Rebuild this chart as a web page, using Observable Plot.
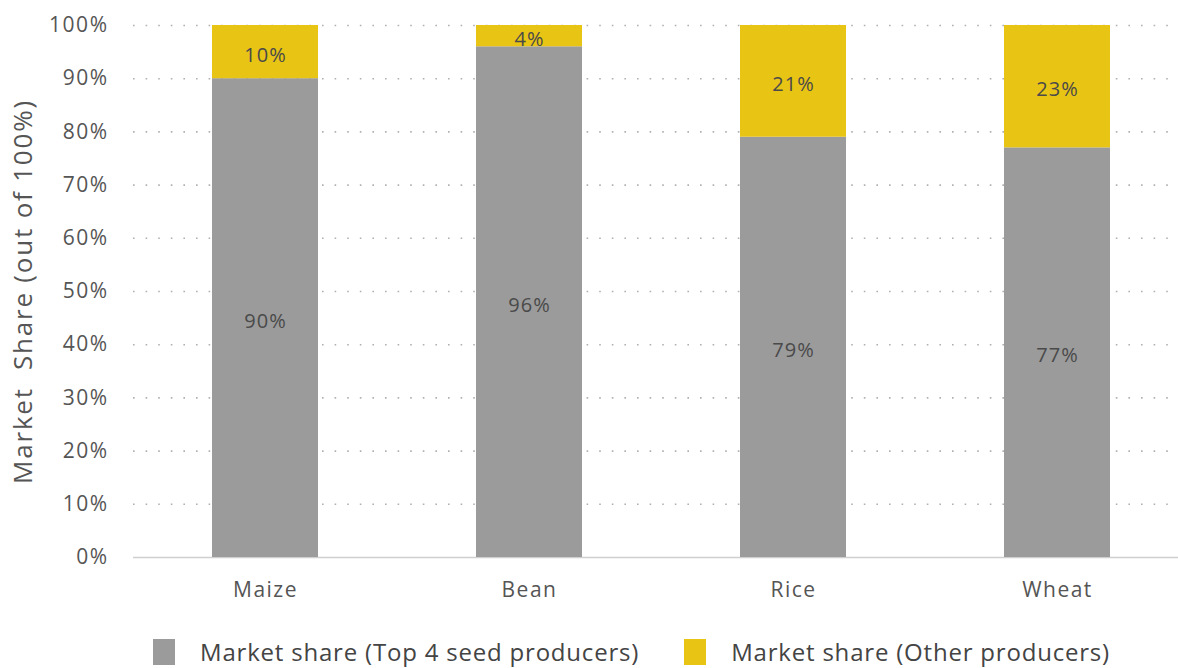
<!DOCTYPE html>
<html>
<head>
<meta charset="utf-8">
<script src="https://cdn.jsdelivr.net/npm/d3@7"></script>
<script src="https://cdn.jsdelivr.net/npm/@observablehq/plot@0.6"></script>
<style>
  html, body { margin: 0; padding: 0; background: #fff; }
  body { width: 1178px; height: 668px; overflow: hidden; font-family: "Open Sans", sans-serif; }
  #chart svg [aria-label="y-axis label"] text { font-size: 26px; letter-spacing: 1.8px; fill: #555; }
  #chart svg [aria-label="y-axis tick label"] text,
  #chart svg [aria-label="x-axis tick label"] text { letter-spacing: 1.5px; }
  #chart svg [aria-label="text"] text { letter-spacing: 1px; }
  #chart svg { display: block; }
  .legend { display: flex; align-items: center; height: 64px; padding-left: 153px; font-size: 24px; line-height: 26px; letter-spacing: 0.8px; color: #444; }
  .legend .item { display: flex; align-items: center; margin-right: 45px; }
  .legend .sw { width: 22px; height: 26px; margin-right: 25px; }
</style>
</head>
<body>
<div id="chart"></div>
<div class="legend" id="legend"></div>
<script>
const categories = ["Maize", "Bean", "Rice", "Wheat"];
const seriesNames = ["Market share (Top 4 seed producers)", "Market share (Other producers)"];
const top4Share = [90, 96, 79, 77];
const otherShare = [10, 4, 21, 23];
const yTicks = [0, 10, 20, 30, 40, 50, 60, 70, 80, 90, 100];
const colors = ["#9b9b9b", "#e8c414"];

const rows = [];
categories.forEach((c, i) => {
  rows.push({category: c, series: seriesNames[0], value: top4Share[i]});
  rows.push({category: c, series: seriesNames[1], value: otherShare[i]});
});

const chart = Plot.plot({
  width: 1178,
  height: 620,
  marginLeft: 133,
  marginRight: 0,
  marginTop: 25,
  marginBottom: 63,
  style: { fontFamily: "'Open Sans', sans-serif", color: "#555", background: "#fff" },
  x: { domain: categories, range: [133, 1189], paddingInner: 0.6, paddingOuter: 0.3, label: null },
  y: { domain: [0, 100], label: null },
  color: { domain: seriesNames, range: colors },
  marks: [
    Plot.ruleY(yTicks.filter(d => d > 0), { stroke: "#b0b0b0", strokeWidth: 1.6, strokeDasharray: "1.6,11" }),
    Plot.ruleY([0], { stroke: "#cfcfcf", strokeWidth: 1.5 }),
    Plot.barY(rows, { x: "category", y: "value", fill: "series", order: seriesNames }),
    Plot.text(rows, Plot.stackY({ x: "category", y: "value", z: "series", order: seriesNames, text: d => d.value + "%", fill: "#4a4a4a", fontSize: 20, dy: 3 })),
    Plot.axisY({ ticks: yTicks, tickFormat: d => d + "%", tickSize: 0, tickPadding: 25, fontSize: 21, label: "Market  Share (out of 100%)", labelAnchor: "center", labelArrow: "none", labelOffset: 120 }),
    Plot.axisX({ tickSize: 0, tickPadding: 25, fontSize: 21, label: null })
  ]
});
document.getElementById("chart").appendChild(chart);

const legend = document.getElementById("legend");
seriesNames.forEach((s, i) => {
  const item = document.createElement("div");
  item.className = "item";
  const sw = document.createElement("div");
  sw.className = "sw";
  sw.style.background = colors[i];
  const t = document.createElement("span");
  t.textContent = s;
  item.appendChild(sw);
  item.appendChild(t);
  legend.appendChild(item);
});
</script>
</body>
</html>
